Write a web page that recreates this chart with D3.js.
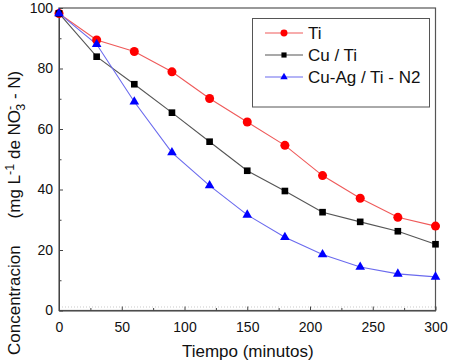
<!DOCTYPE html>
<html><head><meta charset="utf-8">
<script src="https://cdn.jsdelivr.net/npm/d3@7"></script>
<style>body{margin:0;background:#fff;}svg{display:block;font-family:"Liberation Sans",Arial,sans-serif;}</style>
</head><body><svg id="c" width="449" height="361"></svg>
<script>
const times = [0,30,60,90,120,150,180,210,240,270,300];
const seriesNames = ["Ti","Cu / Ti","Cu-Ag / Ti - N2"];
const tiValues = [98.2,89.4,85.6,78.9,70.1,62.3,54.6,44.6,37.1,30.8,27.9];
const cuTiValues = [98.2,83.9,74.8,65.4,55.8,46.2,39.5,32.5,29.3,26.2,21.9];
const cuAgValues = [98.2,88.0,69.0,52.2,41.3,31.6,24.2,18.5,14.4,12.1,11.1];
const xTicks = [0,50,100,150,200,250,300];
const yTicks = [0,20,40,60,80,100];

const svg = d3.select("#c");
const L=59, R=435.5, T=8, B=310.5;
const x = d3.scaleLinear().domain([0,300]).range([L,R]);
const y = d3.scaleLinear().domain([0,100]).range([B,T]);

// faint dotted line near bottom
svg.append("line").attr("x1",L).attr("x2",R).attr("y1",B-3.5).attr("y2",B-3.5)
  .attr("stroke","#bbb").attr("stroke-width",0.8).attr("stroke-dasharray","1,2");

// frame
svg.append("rect").attr("x",L).attr("y",T).attr("width",R-L).attr("height",B-T)
  .attr("fill","none").attr("stroke","#555").attr("stroke-width",1.2);

// axes with inward ticks
const xAx = svg.append("g").attr("transform",`translate(0,${B})`)
  .call(d3.axisBottom(x).tickValues(d3.range(0,301,25)).tickSizeInner(-4).tickSizeOuter(0).tickFormat(""));
xAx.selectAll(".tick line").attr("y2", d=> d%50===0 ? -4 : -2.5).attr("stroke","#444");
xAx.select(".domain").attr("stroke","#444");
const xLab = svg.append("g").attr("transform",`translate(0,${B})`)
  .call(d3.axisBottom(x).tickValues(xTicks).tickSize(0).tickPadding(12));
xLab.select(".domain").remove();
xLab.selectAll("text").attr("font-size",14).attr("font-family","Liberation Sans, Arial").attr("fill","#111");

const yAx = svg.append("g").attr("transform",`translate(${L},0)`)
  .call(d3.axisLeft(y).tickValues(d3.range(0,101,10)).tickSizeOuter(0).tickFormat(""));
yAx.selectAll(".tick line").attr("x2", d=> d%20===0 ? 4 : 2.5).attr("stroke","#444");
yAx.select(".domain").attr("stroke","#444");
const yLab = svg.append("g").attr("transform",`translate(${L},0)`)
  .call(d3.axisLeft(y).tickValues(yTicks).tickSize(0).tickPadding(6));
yLab.select(".domain").remove();
yLab.selectAll("text").attr("font-size",14).attr("font-family","Liberation Sans, Arial").attr("fill","#111");

// axis titles
svg.append("text").attr("x",(L+R)/2+0.5).attr("y",357).attr("text-anchor","middle")
  .attr("font-size",17).attr("fill","#111").text("Tiempo (minutos)");
const yt = svg.append("text").attr("transform","translate(20,355) rotate(-90)")
  .attr("text-anchor","start").attr("font-size",17).attr("fill","#111");
yt.append("tspan").text("Concentracion");
yt.append("tspan").attr("dx",27).text("(mg L");
yt.append("tspan").attr("dy",-6).attr("font-size",12.5).text("-1");
yt.append("tspan").attr("dy",6).text(" de NO");
yt.append("tspan").attr("dy",-6).attr("font-size",12.5).text("-");
yt.append("tspan").attr("dx",-5).attr("dy",11).attr("font-size",12.5).text("3");
yt.append("tspan").attr("dy",-5).text(" - N)");

const series = [
  {name:seriesNames[0], vals:tiValues, line:"#ef5a5a", fill:"#ff0000", sym:d3.symbolCircle, size:64},
  {name:seriesNames[1], vals:cuTiValues, line:"#555", fill:"#000", sym:d3.symbolSquare, size:44},
  {name:seriesNames[2], vals:cuAgValues, line:"#6a6aee", fill:"#0000ff", sym:d3.symbolTriangle, size:40}
];
const line = d3.line().x((d,i)=>x(times[i])).y(d=>y(d));
series.forEach(s=>{
  svg.append("path").attr("d",line(s.vals)).attr("fill","none").attr("stroke",s.line).attr("stroke-width",1.1);
});
series.forEach(s=>{
  svg.append("g").selectAll("path").data(s.vals).join("path")
    .attr("transform",(d,i)=>`translate(${x(times[i])},${y(d)})`)
    .attr("d",d3.symbol().type(s.sym).size(s.size)).attr("fill",s.fill);
});

// legend
svg.append("rect").attr("x",252.5).attr("y",18.5).attr("width",177).attr("height",88.5)
  .attr("fill","#fff").attr("stroke","#555").attr("stroke-width",1);
series.forEach((s,i)=>{
  const ly = 33 + i*22;
  svg.append("line").attr("x1",265).attr("x2",303).attr("y1",ly).attr("y2",ly).attr("stroke",s.line).attr("stroke-width",1.1);
  svg.append("path").attr("transform",`translate(284,${ly})`).attr("d",d3.symbol().type(s.sym).size(s.size*0.6)).attr("fill",s.fill);
  svg.append("text").attr("x",308).attr("y",ly+5.5).attr("font-size",17).attr("fill","#111").text(s.name);
});
</script></body></html>
